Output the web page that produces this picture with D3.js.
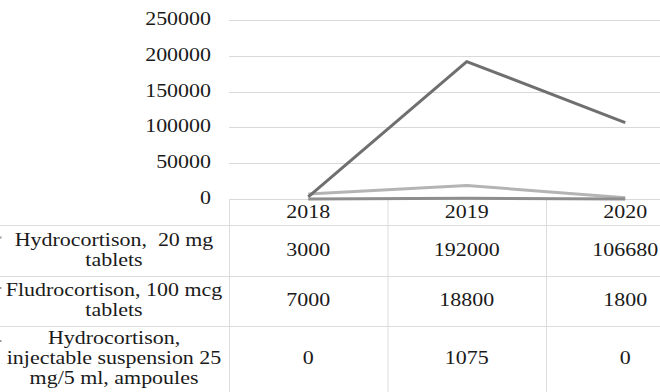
<!DOCTYPE html>
<html>
<head>
<meta charset="utf-8">
<script src="https://cdn.jsdelivr.net/npm/d3@7"></script>
<style>
  html, body { margin: 0; padding: 0; background: #fff; }
  svg { display: block; }
  svg text { fill: #1a1a1a; white-space: pre; }
</style>
</head>
<body>
<div id="chart"></div>
<script>
// Supply of corticosteroid preparations by year
const years = ["2018", "2019", "2020"];
const seriesNames = [
  ["Hydrocortison,  20 mg", "tablets"],
  ["Fludrocortison, 100 mcg", "tablets"],
  ["Hydrocortison,", "injectable suspension 25", "mg/5 ml, ampoules"]
];
const hydroTablets = [3000, 192000, 106680];
const fludroTablets = [7000, 18800, 1800];
const hydroInjection = [0, 1075, 0];
const yTicks = [0, 50000, 100000, 150000, 200000, 250000];

const seriesValues = [hydroTablets, fludroTablets, hydroInjection];
const seriesColors = ["#6f6f6f", "#b4b4b4", "#8e8e8e"];

const W = 660, H = 392;
const plotLeft = 229, plotTop = 20, plotBottom = 199;
const colW = 158.5;
const rowLines = [225, 276, 326];
const rowCenters = [250.5, 301, 359];
const fontSize = 18, sx = 1.22, lineGap = 20;
const serifStack = "Liberation Serif, Times New Roman, Times, Tinos, DejaVu Serif, Noto Serif, FreeSerif, serif";

const svg = d3.select("#chart").append("svg")
  .attr("width", W).attr("height", H);

const x = d3.scaleBand().domain(years)
  .range([plotLeft, plotLeft + colW * years.length]).padding(0);
const y = d3.scaleLinear().domain([0, 250000]).range([plotBottom, plotTop]);

// horizontally stretched text helper
function label(g, txt, px, py, anchor) {
  return g.append("text")
    .attr("transform", `translate(${px},${py}) scale(${sx},1)`)
    .attr("text-anchor", anchor || "middle")
    .style("font-family", serifStack)
    .style("font-size", fontSize + "px")
    .text(txt);
}

// gridlines
const grid = svg.append("g");
grid.selectAll("line").data(yTicks).join("line")
  .attr("x1", plotLeft).attr("x2", W)
  .attr("y1", d => Math.round(y(d)) + 0.5).attr("y2", d => Math.round(y(d)) + 0.5)
  .attr("stroke", "#d9d9d9").attr("stroke-width", 1);

// y axis labels
const yAxis = svg.append("g");
yTicks.forEach(t => label(yAxis, String(t), 211, y(t) + 5, "end"));

// data table grid
const table = svg.append("g").attr("stroke", "#dcdcdc").attr("stroke-width", 1);
rowLines.forEach(r => table.append("line")
  .attr("x1", 0).attr("x2", W).attr("y1", r + 0.5).attr("y2", r + 0.5));
years.forEach(yr => table.append("line")
  .attr("x1", x(yr) + 0.5).attr("x2", x(yr) + 0.5)
  .attr("y1", plotBottom).attr("y2", H));

// year headers
const hdr = svg.append("g");
years.forEach(yr => label(hdr, yr, x(yr) + x.bandwidth() / 2, 218));

// row labels and values
const body = svg.append("g");
seriesNames.forEach((lines, i) => {
  const c = rowCenters[i];
  const start = c + 5 - (lines.length - 1) * lineGap / 2;
  lines.forEach((ln, k) => label(body, ln, 114, start + k * lineGap));
  body.append("rect").attr("x", 0).attr("y", c - 9 - (lines.length - 1) * 5)
    .attr("width", 1.5).attr("height", 2).attr("fill", "#9a9a9a");
  seriesValues[i].forEach((v, j) =>
    label(body, String(v), x(years[j]) + x.bandwidth() / 2, c + 5));
});

// series lines
const line = d3.line()
  .x((d, j) => x(years[j]) + x.bandwidth() / 2)
  .y(d => y(d));
const linesG = svg.append("g");
[1, 2, 0].forEach(i => linesG.append("path")
  .attr("d", line(seriesValues[i]))
  .attr("fill", "none")
  .attr("stroke", seriesColors[i])
  .attr("stroke-width", 3)
  .attr("stroke-linejoin", "round"));
</script>
</body>
</html>
